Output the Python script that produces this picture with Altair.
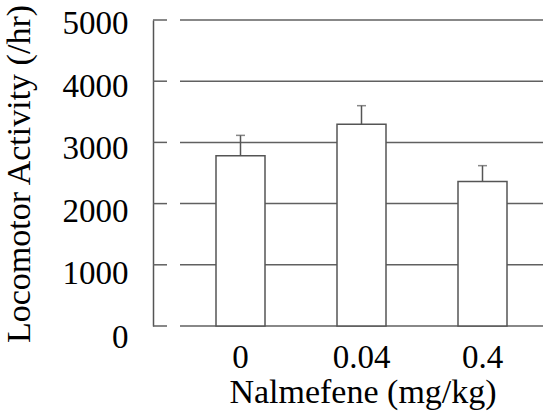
import altair as alt
import pandas as pd

doses = ["0", "0.04", "0.4"]
means = [2780, 3295, 2360]
sems = [335, 305, 260]
y_ticks = [0, 1000, 2000, 3000, 4000, 5000]

df = pd.DataFrame({"dose": doses, "mean": means, "sem": sems})
df["upper"] = df["mean"] + df["sem"]
ticks_df = pd.DataFrame({"v": y_ticks})

FONT = "Liberation Serif"
LINE = "#555555"
GRID = "#606060"

yscale = alt.Scale(domain=[0, 5000], nice=False, zero=True)
xscale = alt.Scale(domain=doses, range=[27, 390], paddingInner=0, paddingOuter=0)

y_axis = alt.Axis(
    title="Locomotor Activity (/hr)",
    values=y_ticks,
    format="d",
    grid=False,
    ticks=False,
    tickSize=0,
    domain=True,
    domainColor=LINE,
    domainWidth=1.5,
    labelFont=FONT,
    labelFontSize=33,
    labelColor="black",
    labelPadding=25,
    labelBaseline="alphabetic",
    labelOverlap=False,
    labelBound=False,
    labelFlush=False,
    labelOffset={
        "condition": [
            {"test": "datum.value == 0", "value": 21},
            {"test": "datum.value == 1000", "value": 19},
            {"test": "datum.value == 2000", "value": 18},
            {"test": "datum.value == 3000", "value": 16},
            {"test": "datum.value == 4000", "value": 15},
        ],
        "value": 13,
    },
    titleFont=FONT,
    titleFontSize=34,
    titleFontWeight="normal",
    titleColor="black",
    titleAngle=-90,
    titleAlign="center",
    titleBaseline="alphabetic",
    titleX=-124,
    titleY=153.5,
)

x_axis = alt.Axis(
    title="Nalmefene (mg/kg)",
    domain=False,
    ticks=False,
    tickSize=0,
    grid=False,
    labelAngle=0,
    labelFont=FONT,
    labelFontSize=33,
    labelColor="black",
    labelPadding=41,
    labelBaseline="alphabetic",
    titleFont=FONT,
    titleFontSize=34,
    titleFontWeight="normal",
    titleColor="black",
    titleAlign="center",
    titleBaseline="alphabetic",
    titleX=209.5,
    titleY=76,
)

grid = alt.Chart(ticks_df).mark_rule(color=GRID, strokeWidth=1.5).encode(
    y=alt.Y("v:Q", scale=yscale, axis=y_axis),
    x=alt.value(27),
    x2=alt.value(390),
)

yticks = alt.Chart(ticks_df).mark_rule(color=GRID, strokeWidth=1.5).encode(
    y=alt.Y("v:Q", scale=yscale),
    x=alt.value(0),
    x2=alt.value(14),
)

base = alt.Chart(df)

bars = base.mark_bar(size=49, fill="white", stroke=LINE, strokeWidth=1.5).encode(
    x=alt.X("dose:N", scale=xscale, axis=x_axis, sort=doses),
    y=alt.Y("mean:Q", scale=yscale),
)

err = base.mark_rule(color=LINE, strokeWidth=1.5).encode(
    x=alt.X("dose:N", scale=xscale, sort=doses),
    y=alt.Y("mean:Q", scale=yscale),
    y2="upper:Q",
)

caps = base.mark_tick(color=LINE, size=9, thickness=1.5).encode(
    x=alt.X("dose:N", scale=xscale, sort=doses),
    y=alt.Y("upper:Q", scale=yscale),
)

chart = (
    alt.layer(grid, yticks, bars, err, caps)
    .properties(
        width=390,
        height=306,
        autosize=alt.AutoSizeParams(type="none"),
        padding={"left": 153, "top": 20, "right": 8, "bottom": 89},
        background="white",
    )
    .configure_view(stroke=None)
)

chart.save("out.html", embed_options={"renderer": "svg", "actions": False})
